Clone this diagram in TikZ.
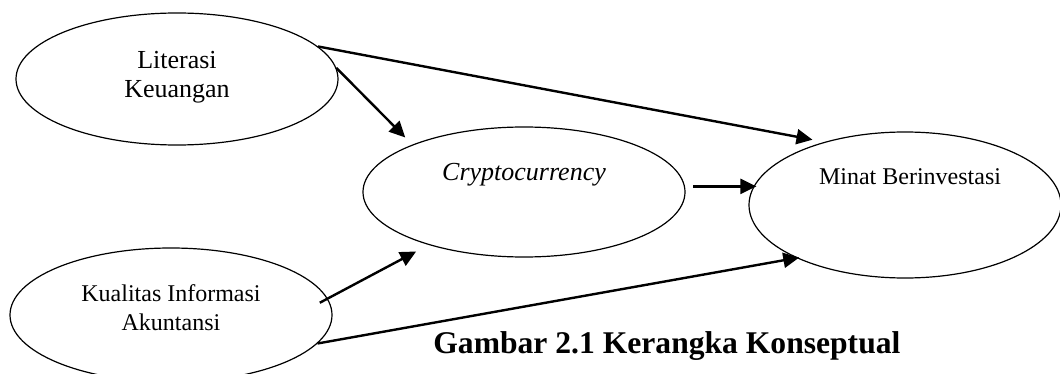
\documentclass[tikz,border=0pt]{standalone}
\usepackage{fontspec}
\setmainfont{Liberation Serif}
\usetikzlibrary{shapes.geometric, arrows.meta}
\tikzstyle{var} = [ellipse, draw=black, line width=0.6pt, inner sep=0pt, minimum width=161pt, minimum height=66pt]
\tikzstyle{txt} = [inner sep=0pt, text centered, align=center, font=\fontsize{12}{14.5}\selectfont]
\tikzstyle{arrow} = [line width=1.2pt, -{Triangle[length=8pt,width=7.5pt]}]

\begin{document}
\begin{tikzpicture}[x=0.5pt, y=-0.5pt]
\useasboundingbox (0,0) rectangle (1060,374);

%% NODES

\node (lit) [var] at (177,79) {};
\node (cryp) [var, minimum height=65pt] at (524,192) {};
\node (minat) [var, minimum width=156pt, minimum height=73pt] at (905,205) {};
\node (kual) [var, minimum height=67pt] at (171,315) {};

\node (lit_txt) [txt, font=\fontsize{13}{14.5}\selectfont] at ([yshift=0.75pt]lit.center) {Literasi\\Keuangan};
\node (cryp_txt) [txt, font=\fontsize{13}{14.5}\selectfont\itshape] at ([yshift=8.5pt]cryp.center) {Cryptocurrency};
\node (minat_txt) [txt] at ([xshift=2.5pt, yshift=14pt]minat.center) {Minat Berinvestasi};
\node (kual_txt) [txt] at ([yshift=3.75pt]kual.center) {Kualitas Informasi\\Akuntansi};

\node (caption) [anchor=base west, inner sep=0pt, font=\fontsize{15.8}{19}\selectfont\bfseries] at (433,353) {Gambar 2.1 Kerangka Konseptual};

%% ARROWS

\draw [arrow, shorten >=6pt] (lit.13) -- (minat.142);
\draw [arrow, shorten >=5pt] (lit.4) -- (cryp.157);
\draw [arrow, shorten <=4pt, shorten >=-4pt] (cryp.2) -- (cryp.2 -| minat.west);
\draw [arrow, shorten <=-4.5pt, shorten >=7pt] (kual.6) -- (cryp.209);
\draw [arrow, shorten >=-1.5pt] (kual.349) -- (minat.206);

\end{tikzpicture}
\end{document}
